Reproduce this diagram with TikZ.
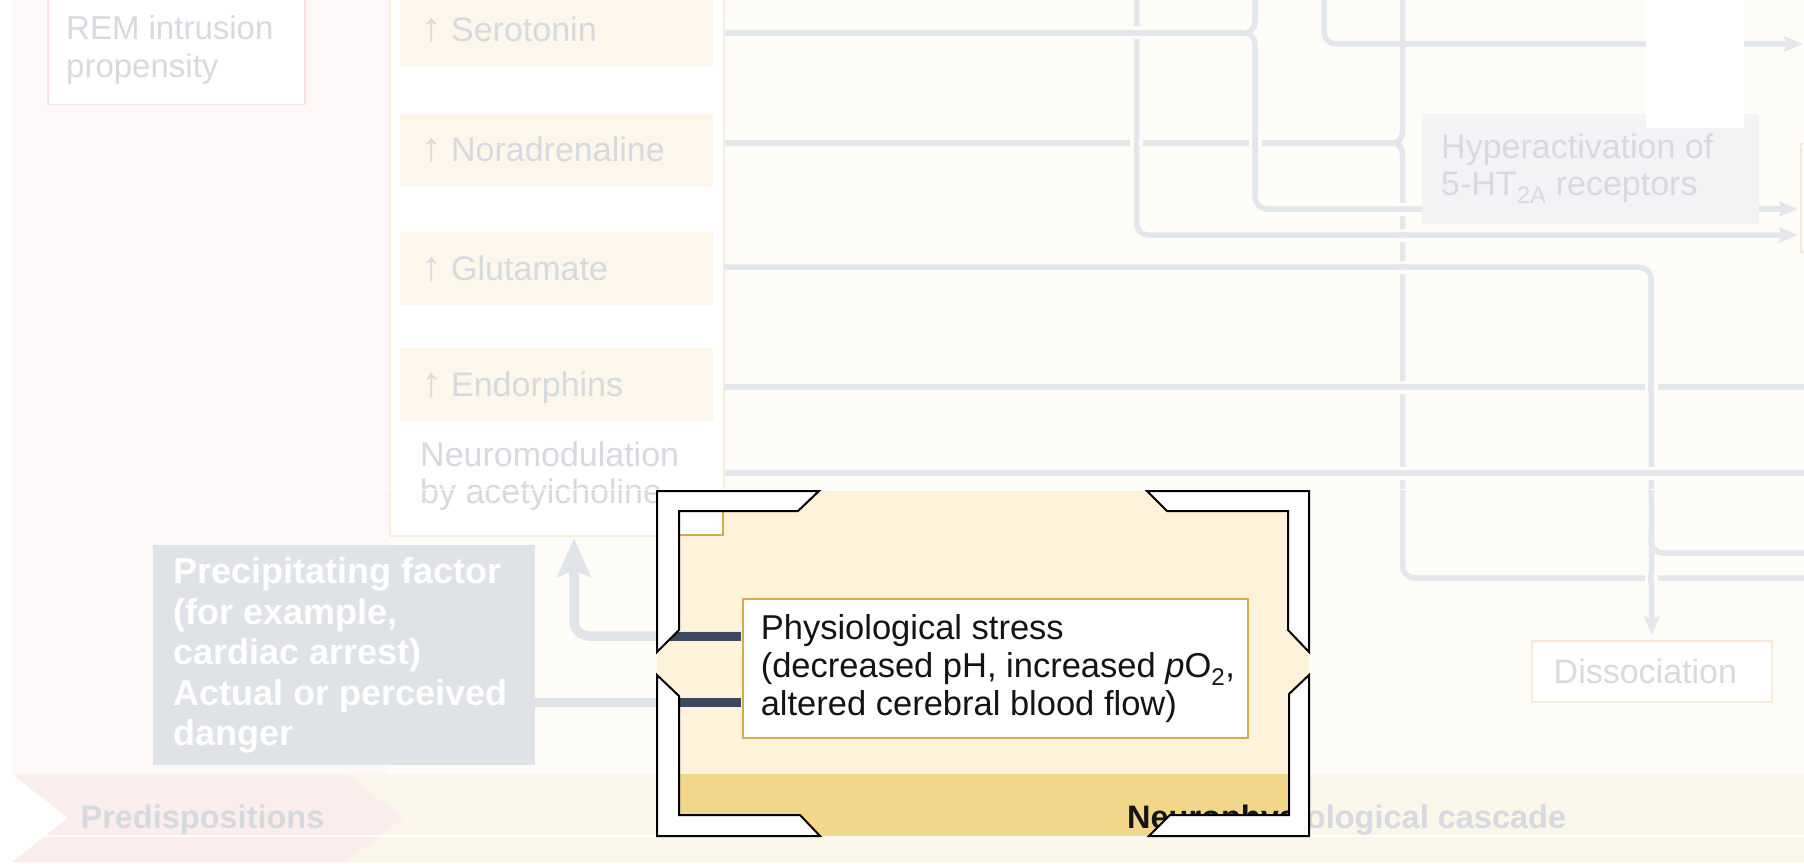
\documentclass[tikz,border=0pt]{standalone}
\usepackage{fontspec}
\setmainfont{Liberation Sans}
\usetikzlibrary{arrows.meta}
\definecolor{bgpink}{HTML}{FDF8F7}
\definecolor{bgcream}{HTML}{FDFCF7}
\definecolor{bandpink}{HTML}{FBEDEC}
\definecolor{bandcream}{HTML}{FAF6EA}
\definecolor{ftext}{HTML}{D6D9DE}
\definecolor{fline}{HTML}{E3E6EB}
\definecolor{fline2}{HTML}{E0E3E8}
\definecolor{fbox}{HTML}{FCF7EA}
\definecolor{fborder}{HTML}{F6EDDA}
\definecolor{fborder2}{HTML}{F7E9DC}
\definecolor{fpinkborder}{HTML}{F9E1E1}
\definecolor{fgray}{HTML}{DFE2E7}
\definecolor{fhyper}{HTML}{F2F3F5}
\definecolor{hlbeige}{HTML}{FEF3DA}
\definecolor{hlgold}{HTML}{F2D68A}
\definecolor{navy}{HTML}{3B4963}
\definecolor{goldline}{HTML}{D4A94F}
\newcommand\myfont[2]{\fontsize{#1}{#2}\selectfont}
\newcommand\uparr{{\fontsize{41}{37}\selectfont ↑}}
\newcommand\overH[2]{\fill[bgcream] ({#1-3.5},{#2-6.5}) rectangle ({#1+3.5},{#2+6.5}); \draw[conn] ({#1-5},#2) -- ({#1+5},#2);}
\newcommand\overV[2]{\fill[bgcream] ({#1-6.5},{#2-3.5}) rectangle ({#1+6.5},{#2+3.5}); \draw[conn] (#1,{#2-5}) -- (#1,{#2+5});}
\tikzset{
  conn/.style={draw=fline, line width=5.5pt, rounded corners=12pt},
  pconn/.style={draw=fline2, line width=9.5pt, rounded corners=15pt},
  sarrow/.style={-{Stealth[length=19pt,width=15pt,inset=3pt]}},
  bigarrow/.style={-{Stealth[length=38pt,width=33pt,inset=6pt]}},
  ftxt/.style={text=ftext, inner sep=0pt, font=\myfont{34}{37}},
  tbox/.style={fill=fbox, minimum width=313, minimum height=73, anchor=north west, inner sep=0pt},
  bandtxt/.style={inner sep=0pt, anchor=base west, font=\myfont{32.5}{38}\bfseries},
  bracket/.style={draw=black, fill=white, line width=2pt, line join=miter}
}
\begin{document}
\begin{tikzpicture}[x=1pt,y=-1pt]
\useasboundingbox (0,0) rectangle (1804,864);
\clip (0,0) rectangle (1804,864);
% backgrounds
\fill[bgpink] (12,0) rectangle (389,774);
\fill[bgcream] (389,0) rectangle (1804,774);
% REM box
\node[draw=fpinkborder, fill=white, line width=1.5pt, minimum width=257, minimum height=114, anchor=north west, inner sep=0pt] (rem) at (47,-10) {};
\node[ftxt, font=\myfont{33}{38}, align=left, anchor=north west] (remt) at (66,12.4) {\strut REM intrusion\\propensity};
% neuromodulation column
\node[draw=fborder, fill=white, line width=1.5pt, minimum width=334, minimum height=545, anchor=north west, inner sep=0pt] (nm) at (389,-10) {};
\node[tbox] (ser) at (400,-7) {};
\node[tbox] (nor) at (400,114) {};
\node[tbox] (glu) at (400,232) {};
\node[tbox] (endo) at (400,348) {};
\node[ftxt, anchor=base west] (sert) at (421,42) {\uparr\ Serotonin};
\node[ftxt, anchor=base west] (nort) at (421,161.7) {\uparr\ Noradrenaline};
\node[ftxt, anchor=base west] (glut) at (421,280) {\uparr\ Glutamate};
\node[ftxt, anchor=base west] (endt) at (421,396) {\uparr\ Endorphins};
\node[ftxt, align=left, anchor=north west] (nmt) at (420,440.1) {\strut Neuromodulation\\by acetyicholine};
% precipitating factor
\node[fill=fgray, minimum width=382, minimum height=220, anchor=north west, inner sep=0pt] (prec) at (153,545) {};
\node[text=white, inner sep=0pt, font=\myfont{36}{40.5}\bfseries, align=left, anchor=north west] (prect) at (173.6,555.25) {\strut Precipitating factor\\(for example,\\cardiac arrest)\\Actual or perceived\\danger};
% right side boxes (nodes defined before connectors)
\node[fill=fhyper, minimum width=337, minimum height=110, anchor=north west, inner sep=0pt] (hyp) at (1422,114) {};
\node[draw=fborder2, fill=white, line width=1.5pt, minimum width=240, minimum height=61, anchor=north west, inner sep=0pt] (dis) at (1531,640) {};
% faded connectors
\draw[conn] (nm.east |- 0,33) -- (1243,33);
\draw[conn, sharp corners] (1255,-5) -- (1255,21) .. controls (1255,29) and (1250,33) .. (1243,33) .. controls (1250,33) and (1255,37) .. (1255,45);
\draw[conn] (1255,45) -- (1255,209) -- (hyp.west |- 0,209);
\draw[conn, sarrow] (hyp.east |- 0,209) -- (1798,209);
\draw[conn, sarrow] (1136.5,-5) -- (1136.5,235) -- (1798,235);
\draw[conn, sarrow] (1324,-5) -- (1324,44) -- (1803,44);
\draw[conn] (nm.east |- 0,143) -- (1393,143);
\draw[conn, sharp corners] (1402.5,-5) -- (1402.5,131) .. controls (1402.5,139) and (1398,143) .. (1393,143) .. controls (1398,143) and (1402.5,147) .. (1402.5,155);
\draw[conn] (1402.5,155) -- (1402.5,578) -- (1814,578);
\draw[conn, sarrow, shorten >=4.5pt] (nm.east |- 0,267) -- (1651,267) -- (dis.north);
\draw[conn] (1651,530) -- (1651,553) -- (1814,553);
\draw[conn] (nm.east |- 0,387) -- (1814,387);
\draw[conn] (nm.east |- 0,473) -- (1814,473);
% crossings
\overH{1136.5}{33}
\overV{1136.5}{143}
\overV{1255}{143}
\overH{1402.5}{209}
\overH{1402.5}{235}
\overH{1402.5}{267}
\overH{1402.5}{387}
\overH{1402.5}{473}
\overV{1651}{387}
\overH{1651}{473}
\overV{1651}{578}
% boxes drawn over lines
\node[fill=fhyper, minimum width=337, minimum height=110, anchor=north west, inner sep=0pt] at (1422,114) {};
\node[ftxt, align=left, anchor=north west] (hypt) at (1441,132.4) {\strut Hyperactivation of\\5-HT\textsubscript{2A} receptors};
\fill[white] (1646,-2) rectangle (1744,128);
\node[ftxt, anchor=base west] (dist) at (1553.5,683) {Dissociation};
\draw[fborder2, line width=1.5pt] (1801,144) rectangle (1870,252);
% bottom band
\fill[bandcream] (340,774) rectangle (1804,862);
\fill[bandpink] (12,774) -- (346,774) -- (404,818) -- (346,862) -- (12,862) -- (68,818) -- cycle;
\node[bandtxt, text=ftext] (pred) at (80.4,828) {Predispositions};
\node[bandtxt, text=ftext] (casc) at (1127,828) {Neurophysiological cascade};
% seams
\fill[white] (0,488.6) rectangle (1804,490);
\fill[white] (0,835.3) rectangle (1804,836.7);
% highlight part A
\begin{scope}
\clip (657,491) rectangle (1309,836);
\fill[hlbeige] (657,491) rectangle (1309,774);
\fill[hlgold] (657,774) rectangle (1309,836);
\draw[goldline, fill=white, line width=2pt] (380,-10) rectangle (723,535);
\node[draw=goldline, fill=white, line width=2pt, minimum width=505, minimum height=139, anchor=north west, inner sep=0pt] (phys) at (742,598) {};
\node[inner sep=0pt, font=\myfont{34.5}{38}, align=left, anchor=north west, text={black!92}] (physt) at (760.6,612.4) {\strut Physiological stress\\(decreased pH, increased \textit{p}O\textsubscript{2},\\altered cerebral blood flow)};
\node[bandtxt, text={black!92}] at (1127,828) {Neurophysiological cascade};
\end{scope}
% precipitating connectors (faded)
\draw[pconn, bigarrow, shorten >=2pt, shorten <=1pt] (phys.west |- 0,636) -- (574,636) -- (nm.south -| 574,0);
\draw[pconn, shorten >=1pt] (prec.east |- 0,702.5) -- (phys.west |- 0,702.5);
% highlight part B
\begin{scope}
\clip (657,491) rectangle (1309,836);
\draw[navy, line width=9pt, shorten <=1pt] (phys.west |- 0,636) -- (640,636);
\draw[navy, line width=9pt, shorten >=1pt] (prec.east |- 0,702.5) -- (phys.west |- 0,702.5);
\end{scope}
% brackets
\draw[bracket] (657,491) -- (819,491) -- (798,511) -- (679,511) -- (679,630) -- (657,652) -- cycle;
\draw[bracket] (1309,491) -- (1147,491) -- (1167,511) -- (1288,511) -- (1288,630) -- (1309,652) -- cycle;
\draw[bracket] (657,836) -- (820,836) -- (800,815) -- (679,815) -- (679,696) -- (657,675) -- cycle;
\draw[bracket] (1309,836) -- (1149,836) -- (1170,815) -- (1289,815) -- (1289,694) -- (1309,675) -- cycle;
\end{tikzpicture}
\end{document}
